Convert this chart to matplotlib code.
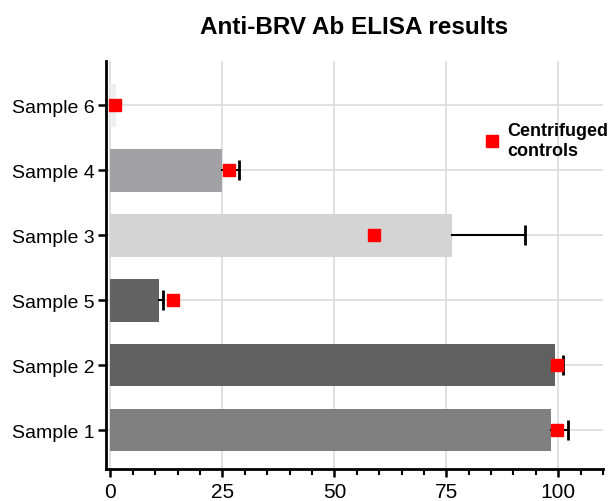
import matplotlib.pyplot as plt
from matplotlib.ticker import MultipleLocator

plt.rcParams['font.family'] = ['Liberation Sans', 'DejaVu Sans']

# data, bottom to top
samples = ['Sample 1', 'Sample 2', 'Sample 5', 'Sample 3', 'Sample 4', 'Sample 6']
means = [98.4, 99.2, 10.8, 76.2, 25.0, 1.2]
errors = [3.8, 1.9, 0.9, 16.3, 3.6, 0.0]
controls = [99.8, 99.8, 14.0, 58.8, 26.4, 1.0]
bar_colors = ['#808080', '#606060', '#636363', '#d4d4d4', '#a2a1a6', '#efefef']

fig = plt.figure(figsize=(6.14, 5.02), dpi=100)
ax = fig.add_axes([106/614, 32/502, 497/614, 408/502])

pos = list(range(len(samples)))
ax.barh(pos, means, height=0.66, color=bar_colors, zorder=2)

# one-sided error bars (upper only, cap at the end)
for m, e, p in zip(means, errors, pos):
    if e > 0:
        ax.plot([m, m + e], [p, p], color='black', linewidth=1.5, zorder=3)
        ax.plot([m + e], [p], marker='|', color='black', markersize=15,
                markeredgewidth=2, zorder=3)

ax.plot(controls, pos, 's', color='#ff0000', markersize=9, zorder=4,
        linestyle='none', label='Centrifuged\ncontrols')

ax.set_xlim(-1, 110)
ax.set_ylim(-0.6, 5.68)
ax.set_yticks(pos)
ax.set_yticklabels(samples, fontsize=14)
ax.xaxis.set_major_locator(MultipleLocator(25))
ax.xaxis.set_minor_locator(MultipleLocator(5))
ax.tick_params(axis='x', labelsize=15, width=1.8, length=6)
ax.tick_params(axis='x', which='minor', width=1.5, length=4)
ax.tick_params(axis='y', width=1.8, length=6, pad=2)

ax.grid(True, color='#dcdcdc', linewidth=1.2, zorder=0)
ax.set_axisbelow(True)
for side in ['top', 'right']:
    ax.spines[side].set_visible(False)
for side in ['left', 'bottom']:
    ax.spines[side].set_linewidth(2)

ax.set_title('Anti-BRV Ab ELISA results', fontsize=17.5, fontweight='bold', pad=20)

leg = ax.legend(loc='upper left', bbox_to_anchor=(0.723, 0.89), frameon=False,
                handletextpad=0.2, handlelength=1.2,
                prop={'weight': 'bold', 'size': 13})

fig.savefig('out.png', dpi=100)
